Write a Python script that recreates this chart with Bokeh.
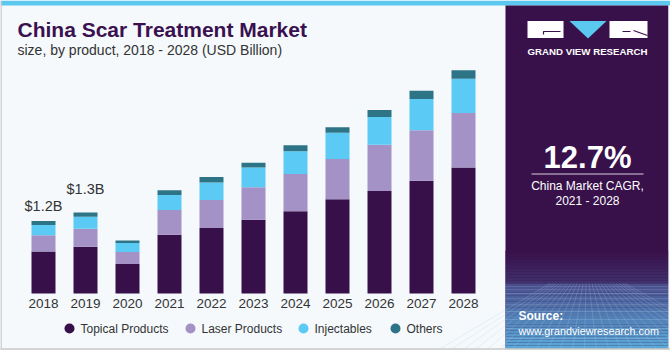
import numpy as np
from bokeh.plotting import figure
from bokeh.models import Range1d, ColumnDataSource
from bokeh.core.properties import value
from bokeh.embed import file_html
from bokeh.resources import INLINE

# ---------------- data ----------------
years = ["2018", "2019", "2020", "2021", "2022", "2023", "2024", "2025", "2026", "2027", "2028"]
topical = [0.70, 0.78, 0.49, 0.98, 1.09, 1.23, 1.37, 1.57, 1.71, 1.88, 2.10]
laser = [0.27, 0.30, 0.20, 0.41, 0.47, 0.54, 0.62, 0.67, 0.77, 0.84, 0.91]
injectables = [0.17, 0.20, 0.15, 0.25, 0.29, 0.33, 0.38, 0.44, 0.46, 0.52, 0.57]
others = [0.07, 0.07, 0.045, 0.08, 0.09, 0.08, 0.10, 0.09, 0.12, 0.14, 0.14]
series_names = ["Topical Products", "Laser Products", "Injectables", "Others"]
ann_years = ["2018", "2019"]
ann_labels = ["$1.2B", "$1.3B"]
cagr_value = "12.7%"

# ---------------- style ----------------
colors = ["#37104a", "#a491c6", "#5bcbf5", "#2e7487"]
W, H = 670, 350
PX_PER_UNIT = 60.0
BASE_PX = 57.0          # baseline distance from bottom
X0_PX, STEP_PX = 43.0, 42.0
FONT = "Liberation Sans"
PURPLE = "#38114a"

p = figure(width=W, height=H, output_backend="svg", toolbar_location=None,
           x_axis_location=None, y_axis_location=None, min_border=0,
           x_range=Range1d(-X0_PX / STEP_PX, (W - X0_PX) / STEP_PX),
           y_range=Range1d(-BASE_PX / PX_PER_UNIT, (H - BASE_PX) / PX_PER_UNIT))
p.extra_x_ranges = {"px": Range1d(0, W)}
p.extra_y_ranges = {"px": Range1d(H, 0)}
p.grid.visible = False
p.outline_line_color = None
p.background_fill_color = "#f5f9fc"
p.border_fill_color = "#f5f9fc"

PX = dict(x_range_name="px", y_range_name="px")

# ---- panels / decoration ----
p.quad(left=[0], right=[W], top=[0], bottom=[5], fill_color="#5bc8f0", line_color=None, **PX)
p.quad(left=[505], right=[668], top=[5], bottom=[348], fill_color=PURPLE, line_color=None, **PX)


def mix(c1, c2, t):
    a = np.array([int(c1[i:i + 2], 16) for i in (1, 3, 5)], float)
    b = np.array([int(c2[i:i + 2], 16) for i in (1, 3, 5)], float)
    c = a + (b - a) * t
    return "#%02x%02x%02x" % tuple(int(round(v)) for v in c)


# gradient in the lower part of the side panel
g_top, g_mid, g_bot = 250, 283, 348
tops, bots, cols = [], [], []
n1 = 11
for k in range(n1):
    y0 = g_top + (g_mid - g_top) * k / n1
    y1 = g_top + (g_mid - g_top) * (k + 1) / n1
    tops.append(y0); bots.append(y1); cols.append(mix(PURPLE, "#40306c", k / (n1 - 1)))
n2 = 22
for k in range(n2):
    y0 = g_mid + (g_bot - g_mid) * k / n2
    y1 = g_mid + (g_bot - g_mid) * (k + 1) / n2
    tops.append(y0); bots.append(y1); cols.append(mix("#484f8c", "#5aa8d8", k / (n2 - 1)))
p.quad(left=505, right=668, top=tops, bottom=bots, fill_color=cols, line_color=None, **PX)

# perspective grid
hy = [286, 289, 293, 298, 304, 311, 319, 328, 338]
p.segment(x0=505, x1=668, y0=hy, y1=hy, line_color="#a8c8ee", line_alpha=0.35, line_width=0.8, **PX)
vx = np.linspace(440, 740, 26)
p.segment(x0=list(586 + (vx - 586) * 0.25), y0=283, x1=list(vx), y1=348,
          line_color="#a8c8ee", line_alpha=0.3, line_width=0.8, **PX)
p.quad(left=[668], right=[W], top=[5], bottom=[348], fill_color="#f5f9fc", line_color=None, **PX)

# borders
p.segment(x0=[0.5, 0], y0=[0, 348.5], x1=[0.5, W], y1=[350, 348.5], line_color="#c8c8c8", line_width=1.5, **PX)

# logo
p.quad(left=[527, 609], right=[563, 647], top=[20.5, 20.5], bottom=[37.5, 37.5],
       fill_color="white", line_color=None, **PX)
p.patch(x=[569, 606, 587.5], y=[20.5, 20.5, 38], fill_color="#5bc8f0", line_color=None, **PX)
p.multi_line(xs=[[543, 543, 560], [633, 647], [622, 630]], ys=[[34, 31, 31], [30, 35], [31, 31]],
             line_color=PURPLE, line_width=1.2, **PX)
p.text(x=[587], y=[51], text=["GRAND VIEW RESEARCH"], text_font=value(FONT), text_font_style="bold",
       text_font_size="9.7px", text_color="white", text_align="center", text_baseline="middle", **PX)

# CAGR
p.text(x=[587], y=[157], text=[cagr_value], text_font=value(FONT), text_font_style="bold",
       text_font_size="31px", text_color="white", text_align="center", text_baseline="middle", **PX)
p.segment(x0=[531], x1=[643], y0=[173.5], y1=[173.5], line_color="#d8d0e0", line_width=1.2, **PX)
p.text(x=[587, 587], y=[185, 200], text=["China Market CAGR,", "2021 - 2028"], text_font=value(FONT),
       text_font_size="12px", text_color="white", text_align="center", text_baseline="middle", **PX)

# source
p.text(x=[518], y=[315], text=["Source:"], text_font=value(FONT), text_font_style="bold",
       text_font_size="12px", text_color="white", text_baseline="middle", **PX)
p.text(x=[518], y=[330], text=["www.grandviewresearch.com"], text_font=value(FONT),
       text_font_size="10.8px", text_color="white", text_baseline="middle", **PX)

# titles
p.text(x=[17], y=[28.5], text=["China Scar Treatment Market"], text_font=value(FONT), text_font_style="bold",
       text_font_size="21px", text_color="#3a1150", text_baseline="middle", **PX)
p.text(x=[17], y=[49], text=["size, by product, 2018 - 2028 (USD Billion)"], text_font=value(FONT),
       text_font_size="14px", text_color="#333333", text_baseline="middle", **PX)

# ---- bars ----
idx = list(range(len(years)))
src = ColumnDataSource(dict(idx=idx, years=years, **{
    series_names[0]: topical, series_names[1]: laser, series_names[2]: injectables, series_names[3]: others}))
p.vbar_stack(series_names, x="idx", width=24 / STEP_PX, color=colors, source=src, line_width=0)

# year labels
p.text(x="idx", y=0, text="years", source=src, y_offset=10, text_font=value(FONT),
       text_font_size="13.5px", text_color="#333333", text_align="center", text_baseline="middle")

# value annotations
totals = [t + l + i + o for t, l, i, o in zip(topical, laser, injectables, others)]
a_idx = [years.index(y) for y in ann_years]
a_src = ColumnDataSource(dict(x=a_idx, y=[totals[i] for i in a_idx], text=ann_labels, off=[-15, -24]))
p.text(x="x", y="y", text="text", y_offset="off", source=a_src, text_font=value(FONT),
       text_font_size="14.5px", text_color="#333333", text_align="center", text_baseline="middle")

# legend (manual)
leg_x = [69, 190, 303, 395]
p.scatter(x=leg_x, y=[328] * 4, size=10, marker="circle", fill_color=colors, line_color=None, **PX)
p.text(x=[x + 11 for x in leg_x], y=[328] * 4, text=series_names, text_font=value(FONT),
       text_font_size="12px", text_color="#333333", text_baseline="middle", **PX)

open("out.html", "w").write(file_html(p, INLINE))
